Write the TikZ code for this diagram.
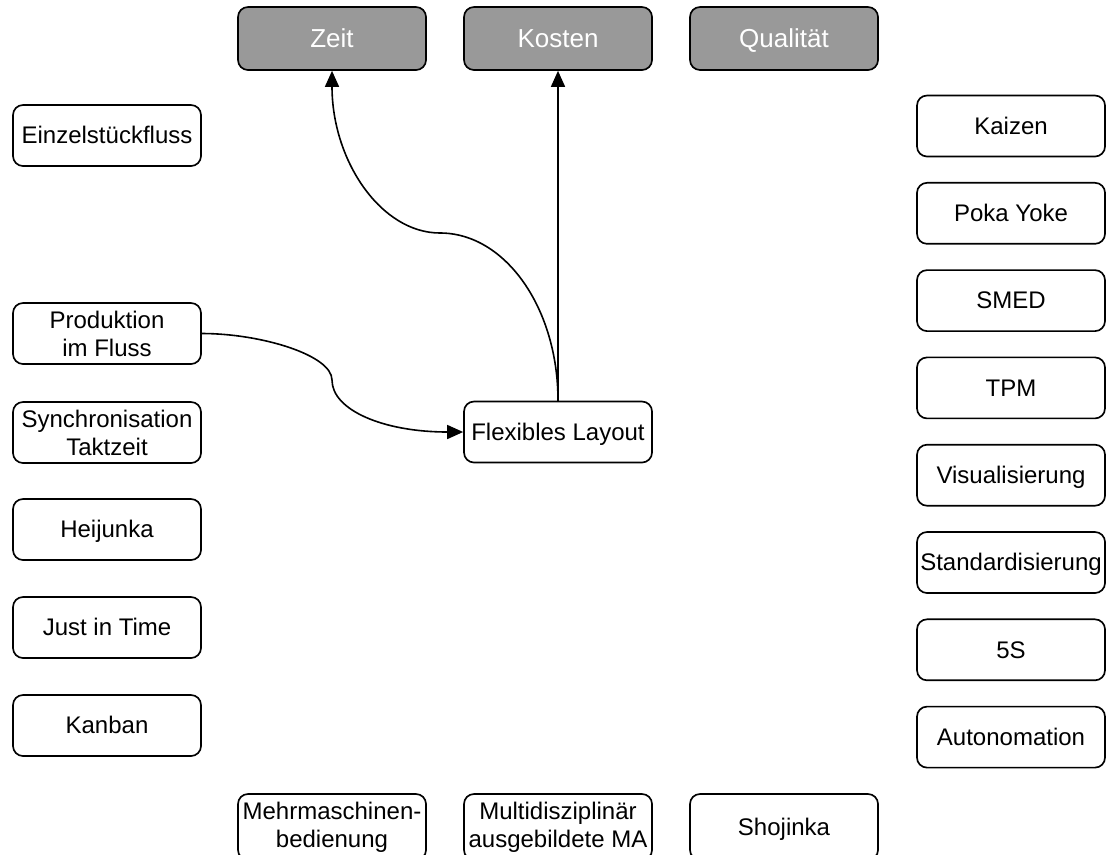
\documentclass[tikz,border=0pt]{standalone}
\usepackage{fontspec}
\setmainfont{Liberation Sans}
\usetikzlibrary{arrows.meta}
\definecolor{headgray}{RGB}{153,153,153}
\begin{document}
\begin{tikzpicture}[x=0.75pt,y=-0.75pt,
  box/.style={draw=black, line width=1.25pt, rounded corners=7.5pt, fill=white,
    minimum width=141pt, minimum height=45.75pt, inner sep=0pt, align=center,
    font=\fontsize{18}{21}\selectfont},
  oneline/.style={box, text height=16.3pt, text depth=3.8pt},
  headbox/.style={box, fill=headgray, text=white, minimum height=47.25pt,
    text height=17.6pt, text depth=4.1pt,
    font=\fontsize{19.5}{23}\selectfont},
  footbox/.style={box, minimum height=49.5pt},
  footone/.style={footbox, text height=16.3pt, text depth=3.8pt},
  link/.style={line width=1.2pt, -{Triangle[length=12pt,width=10.5pt]}}
]
\useasboundingbox (0,0) rectangle (1109,854);

% goals
\node[headbox] (ze) at (332,38.5) {Zeit};
\node[headbox] (ko) at (558,38.5) {Kosten};
\node[headbox] (qu) at (784,38.5) {Qualität};

% left column
\node[oneline] (ez) at (107,135.5) {Einzelstückfluss};
\node[box] (pf) at (107,333.5) {Produktion\\im Fluss};
\node[box] (sy) at (107,432.5) {Synchronisation\\Taktzeit};
\node[oneline] (hj) at (107,529.5) {Heijunka};
\node[oneline] (jt) at (107,627.5) {Just in Time};
\node[oneline] (kb) at (107,725.5) {Kanban};

% centre
\node[oneline] (fl) at (558,432) {Flexibles Layout};

% right column
\node[oneline] (kz) at (1011,126)   {Kaizen};
\node[oneline] (py) at (1011,213.3) {Poka Yoke};
\node[oneline] (sm) at (1011,300.6) {SMED};
\node[oneline] (tp) at (1011,387.9) {TPM};
\node[oneline] (vi) at (1011,475.2) {Visualisierung};
\node[oneline] (st) at (1011,562.5) {Standardisierung};
\node[oneline] (fs) at (1011,649.8) {5S};
\node[oneline] (au) at (1011,737.1) {Autonomation};

% bottom row
\node[footbox] (mm) at (332,827) {Mehrmaschinen-\\bedienung};
\node[footbox] (md) at (558,827) {Multidisziplinär\\ausgebildete MA};
\node[footone] (sh) at (784,827) {Shojinka};

% connectors
\coordinate (b1) at (332,380);
\coordinate (b2) at (440,233);
\draw[link] (pf.east) .. controls +(59,0) and +(0,-25) .. (b1)
                      .. controls +(0,30) and +(-80,0) .. (fl.west);
\draw[link] (fl.north) -- (ko.south);
\draw[link] (fl.north) .. controls +(0,-93) and +(65,0) .. (b2)
                       .. controls +(-59,0) and +(0,90) .. (ze.south);
\end{tikzpicture}
\end{document}
